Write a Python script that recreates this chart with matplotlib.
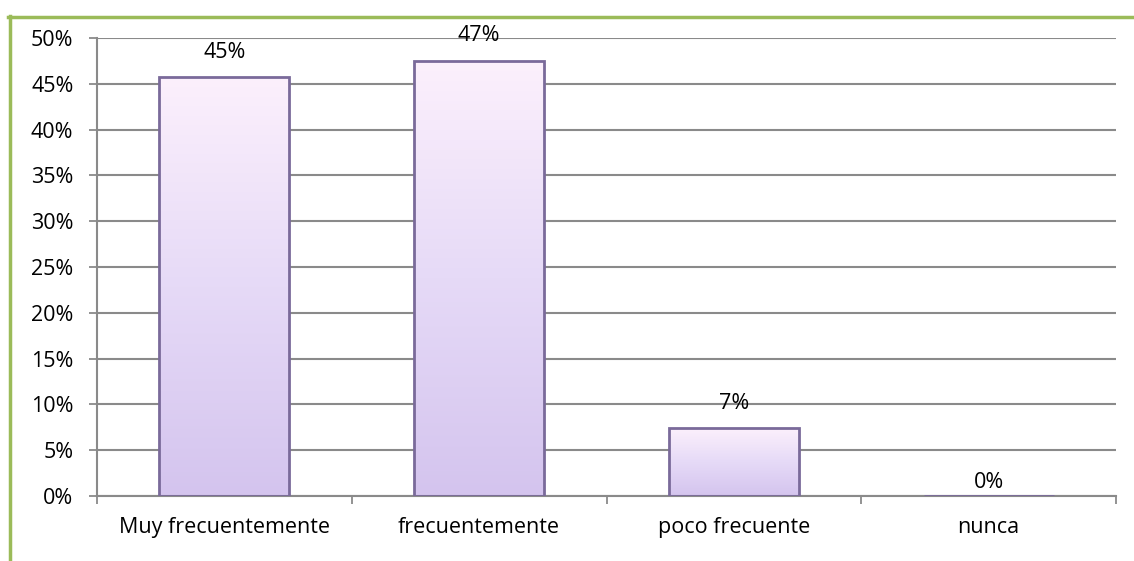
import matplotlib.pyplot as plt
import matplotlib as mpl
import numpy as np
from matplotlib.lines import Line2D
from matplotlib.ticker import MultipleLocator, PercentFormatter

categories = ['Muy frecuentemente', 'frecuentemente', 'poco frecuente', 'nunca']
values = [0.457, 0.475, 0.074, 0.0]
value_labels = ['45%', '47%', '7%', '0%']

plt.rcParams['font.family'] = ['Open Sans', 'DejaVu Sans']
FS = 15.5

fig = plt.figure(figsize=(11.34, 5.61), dpi=100)
ax = fig.add_axes([97 / 1134, 1 - 496 / 561, (1116 - 97) / 1134, (496 - 38) / 561])

x = np.arange(len(categories))
bars = ax.bar(x, values, width=0.51, color='none', edgecolor='#7a6a9a',
              linewidth=2.0, zorder=3)

# vertical gradient inside each bar: pale pink at top, lavender at bottom
cmap = mpl.colors.LinearSegmentedColormap.from_list(
    'bar', ['#d4c4ee', '#e6daf7', '#fcf0fc'])
gradient = np.linspace(0, 1, 256).reshape(-1, 1)
for patch in bars:
    if patch.get_height() <= 0:
        continue
    x0, y0 = patch.get_x(), patch.get_y()
    w, h = patch.get_width(), patch.get_height()
    im = ax.imshow(gradient, cmap=cmap, aspect='auto', origin='lower',
                   extent=(x0, x0 + w, y0, y0 + h), zorder=2)
    im.set_clip_path(patch)

for xi, v, lab in zip(x, values, value_labels):
    off = 18 if v > 0 else 10
    ax.annotate(lab, (xi, v), xytext=(0, off), textcoords='offset points',
                ha='center', va='center', fontsize=FS, color='black')

ax.set_xlim(-0.5, len(categories) - 0.5)
ax.set_ylim(0, 0.5)
ax.yaxis.set_major_locator(MultipleLocator(0.05))
ax.yaxis.set_major_formatter(PercentFormatter(1.0, decimals=0))
ax.grid(axis='y', color='#8a8a8a', linewidth=1.5, zorder=1)
ax.set_axisbelow(True)

ax.set_xticks(x)
ax.set_xticklabels(categories, fontsize=FS)
ax.set_xticks(np.arange(len(categories) + 1) - 0.5, minor=True)
ax.tick_params(axis='x', which='major', length=0, pad=15)
ax.tick_params(axis='x', which='minor', length=6, color='#8a8a8a', width=1.3)
ax.tick_params(axis='y', length=6, color='#8a8a8a', width=1.3, labelsize=FS, pad=11)

for side in ['top', 'right']:
    ax.spines[side].set_visible(False)
for side in ['left', 'bottom']:
    ax.spines[side].set_color('#8a8a8a')
    ax.spines[side].set_linewidth(1.5)

# green frame on the left and top of the picture
green = '#9bbb59'
fig.add_artist(Line2D([9.5 / 1134, 9.5 / 1134], [0, 1 - 16 / 561],
                      transform=fig.transFigure, color=green, linewidth=2.5))
fig.add_artist(Line2D([8 / 1134, 1], [1 - 17 / 561, 1 - 17 / 561],
                      transform=fig.transFigure, color=green, linewidth=2.5))

fig.savefig('out.png', dpi=100, facecolor='white')
